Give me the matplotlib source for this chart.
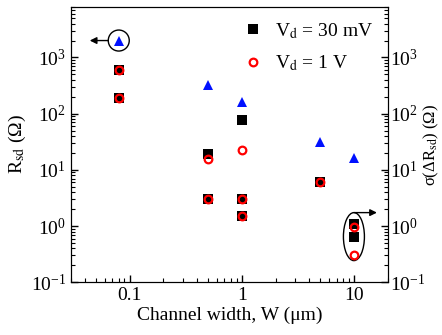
import numpy as np
import matplotlib
matplotlib.use('Agg')
import matplotlib.pyplot as plt
from matplotlib.patches import Ellipse
from matplotlib.transforms import ScaledTranslation

plt.rcParams['font.family'] = ['Liberation Serif', 'DejaVu Serif']
plt.rcParams['mathtext.fontset'] = 'stix'
plt.rcParams['font.size'] = 14

# datos
w_30mV = [0.08, 0.08, 0.5, 0.5, 1, 1, 1, 5, 10, 10]
r_30mV = [590, 193, 19.5, 3.0, 78, 3.0, 1.5, 6.1, 1.1, 0.65]
w_1V = [0.08, 0.08, 0.5, 0.5, 1, 1, 1, 5, 10, 10]
r_1V = [590, 193, 15.7, 3.0, 23, 3.0, 1.5, 6.1, 0.95, 0.30]
w_sig = [0.08, 0.5, 1, 5, 10]
sig = [2000, 330, 164, 31.6, 16]

fig = plt.figure(figsize=(4.42, 3.35), dpi=100)
ax = fig.add_axes([0.1606, 0.1573, 0.7165, 0.8227])

ax.plot(w_sig, sig, '^', color='#0010ff', markersize=7, mew=0, zorder=3)
ax.plot(w_30mV, r_30mV, 's', color='black', markersize=7, mew=0,
        label=r'V$_{\rm d}$ = 30 mV', zorder=3)
ax.plot(w_1V, r_1V, 'o', mfc='none', mec='red', markersize=5.5, mew=1.6,
        label=r'V$_{\rm d}$ = 1 V', zorder=4)

ax.set_xscale('log')
ax.set_yscale('log')
ax.set_xlim(0.03, 20)
ax.set_ylim(0.1, 8000)
ax.set_xticks([0.1, 1, 10])
ax.set_xticklabels(['0.1', '1', '10'])
ax.set_yticks([0.1, 1, 10, 100, 1000])

ax.tick_params(which='both', direction='in', top=False, right=False)
ax.tick_params(which='major', length=5, width=1)
ax.tick_params(which='minor', length=3, width=0.8)

ax2 = ax.twinx()
ax2.set_yscale('log')
ax2.set_ylim(0.1, 8000)
ax2.set_yticks([0.1, 1, 10, 100, 1000])
ax2.tick_params(which='both', direction='in')
ax2.tick_params(which='major', length=5, width=1, pad=2)
ax2.tick_params(which='minor', length=3, width=0.8)

ax.set_xlabel('Channel width, W (μm)', labelpad=2)
ax.set_ylabel(r'R$_{\rm sd}$ (Ω)', labelpad=2)
ax2.set_ylabel(r'σ(ΔR$_{\rm sd}$) (Ω)', labelpad=-3, fontsize=12)

ax.legend(loc='upper right', bbox_to_anchor=(0.99, 0.99), frameon=False,
          handlelength=1.0, handletextpad=0.6, labelspacing=0.65,
          numpoints=1, borderaxespad=0.2)

px = 1 / fig.dpi
flecha = dict(arrowstyle='-|>', color='black', lw=1,
              mutation_scale=10, shrinkA=0, shrinkB=0)

# círculo en W = 0.08 y flecha hacia el eje izquierdo
tr1 = fig.dpi_scale_trans + ScaledTranslation(0.08, 2000, ax.transData)
ax.add_patch(Ellipse((0, 0), 21 * px, 21 * px, transform=tr1,
                     fill=False, ec='black', lw=1, clip_on=False))
ax.annotate('', xy=(-29 * px, 0), xytext=(-10.5 * px, 0),
            xycoords=tr1, textcoords=tr1, arrowprops=flecha)

# elipse en W = 10 y flecha hacia el eje derecho
tr2 = fig.dpi_scale_trans + ScaledTranslation(10, 0.65, ax.transData)
ax.add_patch(Ellipse((0, 0), 21 * px, 48 * px, transform=tr2,
                     fill=False, ec='black', lw=1, clip_on=False))
ax.annotate('', xy=(23 * px, 24 * px), xytext=(0, 24 * px),
            xycoords=tr2, textcoords=tr2, arrowprops=flecha)

fig.savefig('out.png', dpi=100)
